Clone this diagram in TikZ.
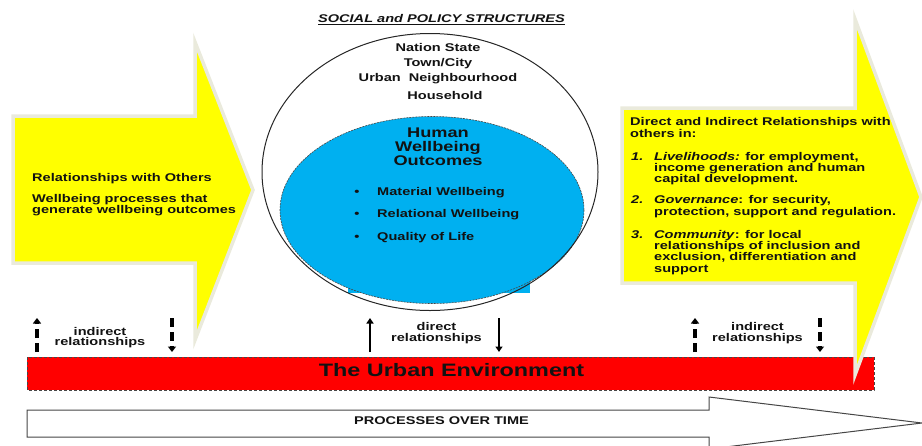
\documentclass[tikz,border=0pt]{standalone}
\usepackage{fontspec}
\setmainfont{Liberation Sans}[FakeStretch=1.3]
\usetikzlibrary{arrows.meta}

\definecolor{arrowyellow}{RGB}{255,255,0}
\definecolor{arrowedge}{RGB}{234,234,220}
\definecolor{skyblue}{RGB}{0,176,240}
\definecolor{envred}{RGB}{255,0,0}
\definecolor{ink}{RGB}{18,18,18}
\definecolor{outline}{RGB}{70,70,70}

\begin{document}
\begin{tikzpicture}[x=1pt,y=-1pt,
  txt/.style={inner sep=0pt, text=ink,
    font=\fontsize{11.2}{11.3}\selectfont\bfseries},
  bigtxt/.style={inner sep=0pt, text=ink,
    font=\fontsize{14}{14}\selectfont\bfseries},
  yellowarrow/.style={fill=arrowyellow, draw=arrowedge, line width=3.5pt, line join=miter},
  timearrow/.style={fill=white, draw=outline, line width=1pt, line join=miter},
  envbar/.style={fill=envred, draw=outline, line width=0.8pt, dash pattern=on 3pt off 2pt},
  dashedlink/.style={draw=black, line width=3.2pt, dash pattern=on 9pt off 5pt,
    -{Triangle[width=8pt,length=5.5pt]}},
  solidlink/.style={draw=black, line width=2pt,
    -{Triangle[width=7pt,length=5.5pt]}}
]
\useasboundingbox (0,0) rectangle (922,445);

% ---- process-over-time arrow along the bottom
\draw[timearrow] (27,410) -- (709,410) -- (709,397) -- (922,423)
  -- (709,449) -- (709,437) -- (27,437) -- cycle;
\node[txt, anchor=base] (time) at (441.5,424) {PROCESSES OVER TIME};

% ---- urban environment bar
\draw[envbar] (27,357) rectangle (874,390);
\node[inner sep=0pt, text=ink, font=\fontsize{18}{18}\selectfont\bfseries, anchor=base]
  (env) at (451.5,376) {The Urban Environment};

% ---- left arrow: relationships with others
\draw[yellowarrow] (13,116) -- (195,116) -- (195,42) -- (253,190)
  -- (195,340) -- (195,263) -- (13,263) -- cycle;
\node[txt, anchor=base west] (l1) at (32,181) {Relationships with Others};
\node[txt, anchor=base west] (l2) at (32,202) {Wellbeing processes that};
\node[txt, anchor=base west] (l3) at (32,213) {generate wellbeing outcomes};

% ---- right arrow: direct and indirect relationships
\draw[yellowarrow] (622,108) -- (855,108) -- (855,19) -- (921,197)
  -- (855,375) -- (855,283) -- (622,283) -- cycle;
\node[txt, anchor=base west] (r1) at (630,125.5) {Direct and Indirect Relationships with};
\node[txt, anchor=base west] (r2) at (630,137) {others in:};
\node[txt, anchor=base west] (n1) at (631,160) {\itshape 1.};
\node[txt, anchor=base west] (r3) at (654,160) {\textit{Livelihoods:} for employment,};
\node[txt, anchor=base west] (r4) at (654,171) {income generation and human};
\node[txt, anchor=base west] (r5) at (654,182) {capital development.};
\node[txt, anchor=base west] (n2) at (631,203) {\itshape 2.};
\node[txt, anchor=base west] (r6) at (654,203) {\textit{Governance}: for security,};
\node[txt, anchor=base west] (r7) at (654,215) {protection, support and regulation.};
\node[txt, anchor=base west] (n3) at (631,238) {\itshape 3.};
\node[txt, anchor=base west] (r8) at (654,238) {\textit{Community}: for local};
\node[txt, anchor=base west] (r9) at (654,249) {relationships of inclusion and};
\node[txt, anchor=base west] (r10) at (654,260.5) {exclusion, differentiation and};
\node[txt, anchor=base west] (r11) at (654,272) {support};

% ---- social and policy structures
\node[txt, anchor=base] (title) at (441.5,22.5)
  {\itshape\underline{SOCIAL and POLICY STRUCTURES}};
\fill[skyblue] (432,210) ellipse [x radius=152, y radius=93.5];
\fill[skyblue] (348,200) rectangle (530,293);
\draw[outline, line width=0.6pt, dash pattern=on 2pt off 1pt]
  (432,210) ellipse [x radius=152, y radius=93.5];
\draw[black!85, line width=1pt] (430,172) ellipse [x radius=168, y radius=138.5];

\node[txt, anchor=base] (s1) at (438,51.5) {Nation State};
\node[txt, anchor=base] (s2) at (438,66.5) {Town/City};
\node[txt, anchor=base] (s3) at (438,81.5) {Urban\ \ Neighbourhood};
\node[txt, anchor=base] (s4) at (445,99) {Household};

\node[bigtxt, anchor=base] (h1) at (438,137) {Human};
\node[bigtxt, anchor=base] (h2) at (438,151) {Wellbeing};
\node[bigtxt, anchor=base] (h3) at (438,165) {Outcomes};

\node[txt, anchor=base] (d1) at (357,195) {\textbullet};
\node[txt, anchor=base] (d2) at (357,217) {\textbullet};
\node[txt, anchor=base] (d3) at (357,240) {\textbullet};
\node[txt, anchor=base west] (o1) at (377,195) {Material Wellbeing};
\node[txt, anchor=base west] (o2) at (377,217) {Relational Wellbeing};
\node[txt, anchor=base west] (o3) at (377,240) {Quality of Life};

% ---- links between the environment and the structures
\coordinate (a1b) at (37,352);  \coordinate (a1t) at (37,318);
\coordinate (a2b) at (172,352); \coordinate (a2t) at (172,318);
\coordinate (a3b) at (370,352); \coordinate (a3t) at (370,318);
\coordinate (a4b) at (499,352); \coordinate (a4t) at (499,318);
\coordinate (a5b) at (695,352); \coordinate (a5t) at (695,318);
\coordinate (a6b) at (820,352); \coordinate (a6t) at (820,318);

\draw[dashedlink] (a1b) -- (a1t);
\draw[dashedlink] (a2t) -- (a2b);
\draw[solidlink] (a3b) -- (a3t);
\draw[solidlink] (a4t) -- (a4b);
\draw[dashedlink] (a5b) -- (a5t);
\draw[dashedlink] (a6t) -- (a6b);

\node[txt, anchor=base] (i1) at (100,335) {indirect};
\node[txt, anchor=base] (i2) at (100,345.5) {relationships};
\node[txt, anchor=base] (k1) at (436.5,330.5) {direct};
\node[txt, anchor=base] (k2) at (436.5,341) {relationships};
\node[txt, anchor=base] (j1) at (757.5,330.5) {indirect};
\node[txt, anchor=base] (j2) at (757.5,341.5) {relationships};
\end{tikzpicture}
\end{document}
